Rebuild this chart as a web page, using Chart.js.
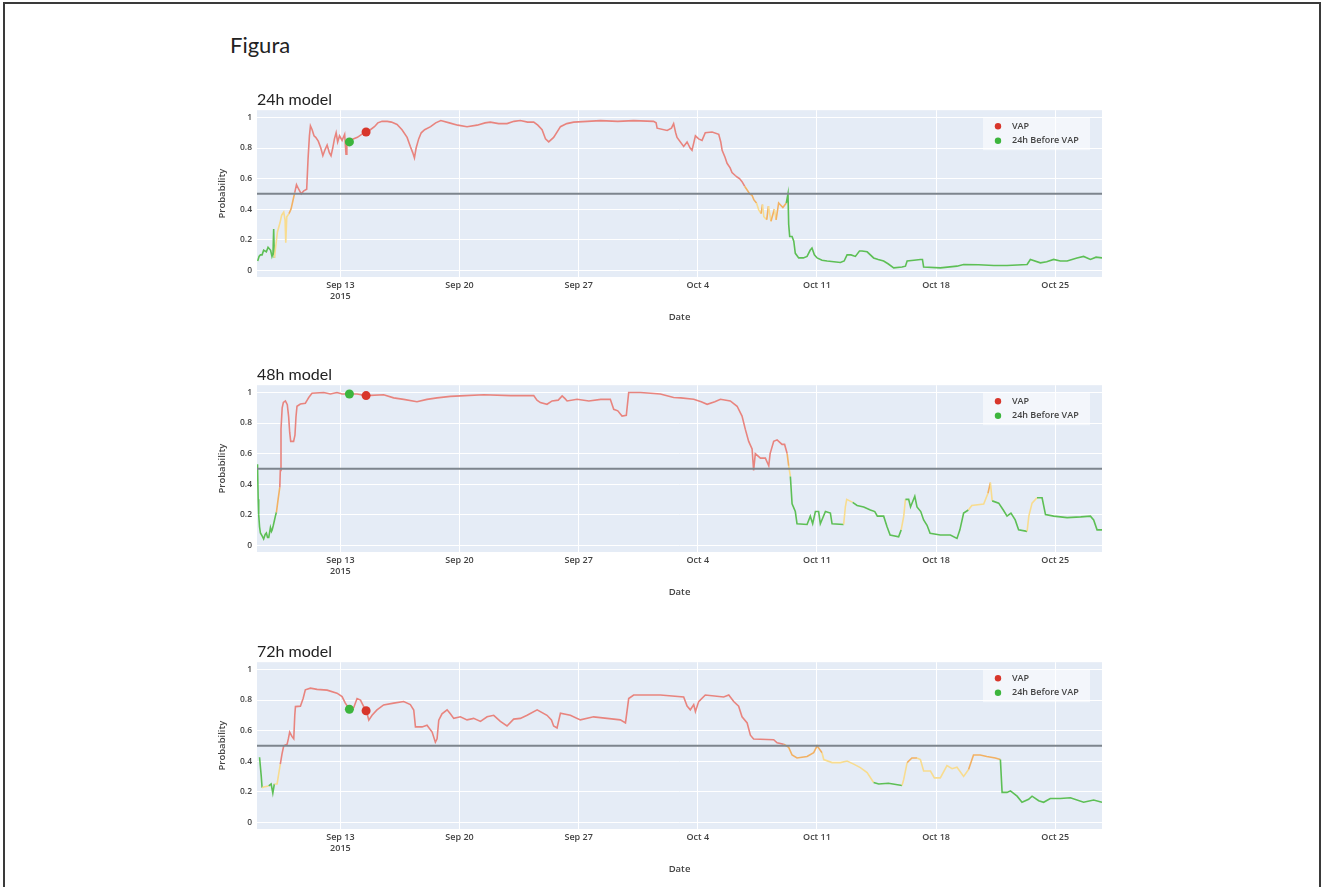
<!DOCTYPE html>
<html>
<head>
<meta charset="utf-8">
<script src="https://cdn.jsdelivr.net/npm/chart.js@4.4.1/dist/chart.umd.min.js"></script>
<style>
  html, body { margin:0; padding:0; background:#fff; width:1325px; height:887px; overflow:hidden; }
  #frame { position:absolute; left:3px; top:2px; width:1318px; height:920px; box-sizing:border-box; border:2px solid #3a3a3a; }
  #fig { position:absolute; left:230px; top:31px; font-family:Lato, "Open Sans", sans-serif; font-size:22px; color:#222; }
  canvas { position:absolute; }
</style>
</head>
<body>
<div id="frame"></div>
<div id="fig">Figura</div>
<canvas id="c24" width="905" height="250" style="left:205px;top:82px;width:905px;height:250px"></canvas>
<canvas id="c48" width="905" height="250" style="left:205px;top:357px;width:905px;height:250px"></canvas>
<canvas id="c72" width="905" height="250" style="left:205px;top:634px;width:905px;height:250px"></canvas>
<script>
// ---- Data (x = days from Sep 13 2015) ----
const tickDays = [0, 7, 14, 21, 28, 35, 42];
const tickLabels = ['Sep 13', 'Sep 20', 'Sep 27', 'Oct 4', 'Oct 11', 'Oct 18', 'Oct 25'];
const yearLabel = '2015';
const yTicks = [0, 0.2, 0.4, 0.6, 0.8, 1];
const threshold = 0.5;
const modelTitles = ['24h model', '48h model', '72h model'];
const seriesLabels = ['VAP', '24h Before VAP'];
const vapDay = 1.51;
const vapProb = [0.905, 0.98, 0.73];
const beforeDay = 0.53;
const beforeProb = [0.84, 0.99, 0.74];

const days24 = [-4.86,-4.78,-4.70,-4.60,-4.51,-4.35,-4.25,-4.10,-4.02,-3.96,-3.92,-3.88,-3.70,-3.55,-3.45,-3.33,-3.25,-3.21,-3.15,-3.02,-2.90,-2.80,-2.68,-2.58,-2.45,-2.30,-2.15,-1.98,-1.90,-1.82,-1.76,-1.66,-1.55,-1.45,-1.30,-1.15,-1.03,-0.90,-0.78,-0.65,-0.55,-0.45,-0.35,-0.25,-0.16,-0.05,0.10,0.25,0.33,0.38,0.53,0.75,1.00,1.25,1.51,1.76,2.00,2.20,2.45,2.75,3.00,3.33,3.62,3.92,4.11,4.25,4.35,4.45,4.60,4.75,4.95,5.30,5.60,5.90,6.40,6.90,7.44,8.03,8.50,8.81,9.30,9.79,10.20,10.57,11.00,11.36,11.60,11.85,12.05,12.24,12.53,12.93,13.30,13.71,14.50,15.28,16.30,17.23,18.40,18.55,18.61,19.20,19.45,19.58,19.70,19.78,20.17,20.37,20.55,20.66,20.86,21.05,21.25,21.44,21.84,22.23,22.35,22.43,22.60,22.72,22.90,23.01,23.20,23.31,23.45,23.60,23.75,23.90,24.05,24.19,24.30,24.45,24.58,24.72,24.80,24.88,25.05,25.15,25.30,25.50,25.60,25.75,26.00,26.20,26.30,26.34,26.40,26.54,26.64,26.73,26.93,27.20,27.42,27.60,27.71,27.85,28.01,28.30,28.60,29.38,29.60,29.77,30.00,30.26,30.50,30.65,30.95,31.33,31.60,31.92,32.20,32.51,33.00,33.20,33.30,33.70,34.08,34.20,34.27,35.25,36.23,36.62,37.50,38.40,39.17,40.35,40.54,41.13,41.50,41.91,42.30,42.70,43.28,43.67,44.07,44.40,44.75];
const prob24 = [0.06,0.09,0.10,0.10,0.13,0.12,0.15,0.13,0.09,0.11,0.27,0.08,0.25,0.31,0.36,0.38,0.33,0.18,0.35,0.37,0.40,0.45,0.51,0.56,0.53,0.50,0.52,0.53,0.73,0.88,0.945,0.92,0.88,0.87,0.845,0.80,0.75,0.79,0.82,0.77,0.75,0.80,0.86,0.90,0.84,0.88,0.85,0.89,0.76,0.84,0.84,0.86,0.87,0.89,0.905,0.92,0.94,0.965,0.975,0.975,0.97,0.955,0.92,0.87,0.81,0.77,0.735,0.80,0.86,0.90,0.92,0.94,0.965,0.98,0.965,0.95,0.94,0.95,0.965,0.97,0.96,0.96,0.975,0.98,0.97,0.97,0.95,0.92,0.86,0.84,0.87,0.94,0.96,0.97,0.975,0.98,0.975,0.98,0.975,0.965,0.93,0.915,0.93,0.96,0.90,0.87,0.81,0.84,0.80,0.785,0.88,0.86,0.85,0.90,0.905,0.89,0.84,0.785,0.74,0.70,0.67,0.64,0.62,0.61,0.60,0.58,0.55,0.525,0.50,0.49,0.46,0.44,0.395,0.37,0.43,0.35,0.33,0.42,0.32,0.40,0.33,0.44,0.41,0.44,0.50,0.30,0.22,0.22,0.19,0.11,0.08,0.08,0.09,0.13,0.145,0.10,0.08,0.065,0.06,0.05,0.06,0.10,0.10,0.09,0.125,0.125,0.12,0.08,0.07,0.06,0.04,0.015,0.02,0.026,0.06,0.065,0.07,0.07,0.02,0.015,0.026,0.037,0.035,0.03,0.03,0.037,0.07,0.048,0.055,0.07,0.06,0.06,0.08,0.09,0.07,0.085,0.08];
// colour class runs along each series: [class, number of points]
const runs24 = [['g',12],['y',8],['o',3],['r',104],['o',5],['y',2],['o',1],['y',2],['o',1],['y',1],['o',1],['y',1],['o',3],['g',53]];

const days48 = [-4.87,-4.83,-4.80,-4.75,-4.70,-4.60,-4.51,-4.42,-4.35,-4.28,-4.21,-4.11,-4.05,-4.01,-3.94,-3.88,-3.82,-3.76,-3.66,-3.56,-3.53,-3.49,-3.42,-3.35,-3.23,-3.12,-3.04,-2.98,-2.92,-2.75,-2.67,-2.61,-2.55,-2.35,-2.06,-1.95,-1.86,-1.67,-0.98,-0.59,-0.20,0.10,0.53,0.98,1.51,2.54,3.13,3.72,4.50,5.09,5.68,6.46,7.05,8.42,10.00,11.36,11.55,11.75,12.14,12.44,12.80,13.03,13.20,13.32,13.91,14.60,15.30,15.86,16.06,16.30,16.45,16.55,16.80,16.94,17.63,18.80,19.58,20.00,20.76,21.20,21.55,22.00,22.33,22.91,23.31,23.60,23.79,23.99,24.19,24.28,24.38,24.68,24.97,25.17,25.25,25.46,25.66,25.95,26.10,26.25,26.34,26.44,26.54,26.73,26.83,27.42,27.61,27.75,27.91,28.10,28.20,28.50,28.79,28.89,29.57,29.67,29.75,30.10,30.36,30.75,31.14,31.40,31.55,31.92,32.12,32.30,32.80,32.95,33.10,33.20,33.39,33.50,33.75,33.88,34.10,34.27,34.47,34.65,35.25,35.84,36.23,36.40,36.62,36.90,37.10,37.80,38.05,38.19,38.30,38.68,38.95,39.17,39.40,39.65,39.85,40.35,40.45,40.64,40.93,41.23,41.43,41.91,42.70,43.50,44.07,44.26,44.46,44.75];
const prob48 = [0.53,0.30,0.20,0.12,0.08,0.06,0.04,0.07,0.08,0.05,0.05,0.115,0.09,0.10,0.13,0.16,0.19,0.215,0.30,0.38,0.49,0.76,0.90,0.935,0.945,0.92,0.84,0.74,0.68,0.68,0.72,0.84,0.91,0.925,0.93,0.95,0.967,0.995,1.0,0.99,1.0,0.99,0.99,0.99,0.98,0.985,0.965,0.955,0.94,0.955,0.965,0.975,0.978,0.985,0.98,0.98,0.95,0.934,0.923,0.945,0.95,0.978,0.96,0.945,0.956,0.945,0.955,0.956,0.89,0.88,0.86,0.846,0.85,1.0,1.0,0.99,0.967,0.965,0.956,0.94,0.923,0.94,0.956,0.945,0.91,0.846,0.76,0.68,0.63,0.49,0.60,0.57,0.57,0.52,0.60,0.68,0.69,0.66,0.66,0.60,0.52,0.45,0.27,0.22,0.14,0.135,0.19,0.14,0.22,0.22,0.14,0.22,0.21,0.14,0.135,0.25,0.30,0.28,0.26,0.25,0.23,0.22,0.19,0.19,0.12,0.066,0.055,0.10,0.19,0.30,0.30,0.25,0.32,0.25,0.22,0.165,0.13,0.077,0.066,0.066,0.044,0.10,0.21,0.23,0.26,0.27,0.34,0.41,0.29,0.275,0.23,0.19,0.21,0.165,0.10,0.09,0.19,0.275,0.31,0.31,0.20,0.19,0.18,0.185,0.19,0.165,0.10,0.10];
const runs48 = [['g',18],['o',2],['r',80],['o',1],['y',1],['g',13],['y',3],['g',10],['y',2],['g',14],['y',3],['o',1],['y',1],['g',7],['y',3],['g',9]];

const days72 = [-4.75,-4.65,-4.60,-4.51,-4.30,-4.21,-4.07,-3.97,-3.88,-3.72,-3.62,-3.53,-3.43,-3.33,-3.13,-3.05,-2.98,-2.84,-2.74,-2.68,-2.64,-2.35,-2.19,-2.06,-1.76,-1.37,-0.78,-0.20,0.10,0.29,0.53,0.78,0.98,1.18,1.37,1.51,1.67,1.86,2.15,2.54,3.13,3.72,4.11,4.31,4.41,4.80,5.09,5.39,5.58,5.68,5.78,5.97,6.27,6.46,6.66,7.05,7.44,7.83,8.23,8.62,9.01,9.40,9.79,10.18,10.57,10.97,11.56,12.14,12.40,12.53,12.73,12.93,13.51,14.10,14.88,15.67,16.45,16.75,16.94,17.23,18.80,20.17,20.37,20.56,20.76,20.86,21.05,21.44,22.52,22.82,23.11,23.40,23.60,23.90,24.09,24.28,25.46,25.66,26.05,26.34,26.54,26.83,27.42,27.81,28.01,28.30,28.40,28.89,29.38,29.77,30.16,30.55,30.95,31.33,31.63,32.20,33.00,33.10,33.30,33.58,33.88,34.08,34.27,34.67,34.90,35.25,35.64,35.94,36.23,36.62,36.91,37.20,37.59,37.98,38.48,38.78,38.88,39.17,39.37,39.76,40.05,40.44,40.64,41.03,41.32,41.71,42.30,42.89,43.67,44.26,44.75];
const prob72 = [0.425,0.30,0.225,0.23,0.235,0.237,0.25,0.19,0.25,0.25,0.32,0.38,0.447,0.50,0.51,0.55,0.59,0.56,0.546,0.70,0.757,0.76,0.81,0.867,0.878,0.87,0.865,0.845,0.823,0.78,0.74,0.75,0.81,0.80,0.757,0.735,0.668,0.70,0.735,0.768,0.78,0.79,0.77,0.735,0.624,0.624,0.635,0.59,0.524,0.546,0.668,0.71,0.736,0.71,0.68,0.69,0.67,0.68,0.66,0.69,0.70,0.66,0.63,0.675,0.68,0.70,0.736,0.70,0.67,0.63,0.617,0.714,0.70,0.67,0.69,0.68,0.67,0.65,0.81,0.833,0.833,0.82,0.76,0.736,0.77,0.725,0.79,0.833,0.82,0.833,0.79,0.76,0.69,0.65,0.57,0.545,0.54,0.52,0.51,0.49,0.44,0.42,0.43,0.455,0.50,0.455,0.41,0.39,0.39,0.40,0.38,0.357,0.325,0.26,0.25,0.255,0.24,0.28,0.39,0.42,0.42,0.41,0.335,0.335,0.29,0.29,0.37,0.35,0.36,0.30,0.345,0.44,0.44,0.43,0.42,0.41,0.195,0.195,0.205,0.17,0.13,0.15,0.17,0.14,0.13,0.155,0.155,0.16,0.13,0.145,0.13];
const runs72 = [['g',3],['y',3],['g',3],['y',3],['r',87],['o',7],['y',8],['g',3],['y',2],['o',2],['y',10],['o',5],['g',15]];

// ---- Styling ----
const lineColors = { r: '#e8847e', o: '#f2b163', y: '#f8dc8f', g: '#5dbf55' };
const plotBg = '#e5ecf6';
Chart.defaults.font.family = '"Open Sans", sans-serif';
Chart.defaults.color = '#444';

const expandRuns = runs => runs.flatMap(([c, n]) => Array(n).fill(c));

const plotBgPlugin = {
  id: 'plotBg',
  beforeDraw(chart) {
    const { ctx, chartArea: a } = chart;
    ctx.save();
    ctx.fillStyle = plotBg;
    ctx.fillRect(a.left, a.top, a.right - a.left, a.bottom - a.top);
    ctx.restore();
  }
};

const insideLegend = {
  id: 'insideLegend',
  afterDatasetsDraw(chart) {
    const { ctx, chartArea: a } = chart;
    const items = chart.data.datasets.filter(d => d.inLegend);
    const w = 107, h = 33;
    const x = a.right - 12 - w, y = a.top + 7;
    ctx.save();
    ctx.fillStyle = 'rgba(255,255,255,0.55)';
    ctx.fillRect(x, y, w, h);
    ctx.font = '600 9px "Open Sans"';
    ctx.textBaseline = 'middle';
    items.forEach((d, i) => {
      const cy = y + 9 + i * 14.5;
      ctx.fillStyle = d.backgroundColor;
      ctx.beginPath();
      ctx.arc(x + 15, cy, 3.2, 0, Math.PI * 2);
      ctx.fill();
      ctx.fillStyle = '#444';
      ctx.fillText(d.label, x + 29, cy);
    });
    ctx.restore();
  }
};

const xMin = -4.9, xMax = 44.75, yMin = -0.045, yMax = 1.048;

function makeChart(id, title, days, probs, runs, idx) {
  const cls = expandRuns(runs);
  const pts = days.map((d, i) => ({ x: d, y: probs[i] }));
  new Chart(document.getElementById(id), {
    type: 'line',
    data: {
      datasets: [
        { label: seriesLabels[0], inLegend: true, type: 'scatter', data: [{ x: vapDay, y: vapProb[idx] }],
          backgroundColor: '#d8362b', pointRadius: 4.5, pointBorderWidth: 0, order: 0 },
        { label: seriesLabels[1], inLegend: true, type: 'scatter', data: [{ x: beforeDay, y: beforeProb[idx] }],
          backgroundColor: '#3db53d', pointRadius: 4.5, pointBorderWidth: 0, order: 0 },
        { label: 'threshold', data: [{ x: xMin, y: threshold }, { x: xMax, y: threshold }],
          borderColor: '#7d858d', borderWidth: 2, pointRadius: 0, order: 1 },
        { label: 'probability', data: pts, borderWidth: 1.6, pointRadius: 0, tension: 0, order: 2,
          borderColor: lineColors.r,
          segment: { borderColor: c => lineColors[cls[c.p1DataIndex]] || lineColors.r } }
      ]
    },
    options: {
      responsive: false, animation: false, devicePixelRatio: 1,
      layout: { padding: { left: 0, right: 8, top: 0, bottom: 0 } },
      plugins: {
        legend: { display: false },
        tooltip: { enabled: false },
        title: { display: true, text: title, align: 'start', fullSize: false,
          font: { family: 'Lato', size: 16, weight: 'normal', lineHeight: 1.2 }, color: '#222',
          padding: { top: 8, bottom: 1 } }
      },
      scales: {
        x: {
          type: 'linear', min: xMin, max: xMax,
          afterFit: s => { s.height = 55; },
          afterBuildTicks: s => { s.ticks = tickDays.map(v => ({ value: v })); },
          grid: { color: '#ffffff', lineWidth: 1, drawTicks: false },
          border: { display: false },
          ticks: { autoSkip: false, maxRotation: 0, padding: 3,
            font: { size: 9, weight: '600', lineHeight: 1.25 }, color: '#444',
            callback: v => { const i = tickDays.indexOf(v); return i === 0 ? [tickLabels[i], yearLabel] : tickLabels[i]; } },
          title: { display: true, text: 'Date', font: { size: 9.5, weight: '600' }, color: '#444',
            padding: { top: 0, bottom: 9.3 } }
        },
        y: {
          min: yMin, max: yMax,
          afterFit: s => { s.width = 52; },
          afterBuildTicks: s => { s.ticks = yTicks.map(v => ({ value: v })); },
          grid: { color: '#ffffff', lineWidth: 1, drawTicks: false },
          border: { display: false },
          ticks: { padding: 5, font: { size: 8.5, weight: '600' }, color: '#444', callback: v => String(v) },
          title: { display: true, text: 'Probability', font: { size: 9.5, weight: '600' }, color: '#444',
            padding: { top: 12, bottom: 0 } }
        }
      }
    },
    plugins: [plotBgPlugin, insideLegend]
  });
}

makeChart('c24', modelTitles[0], days24, prob24, runs24, 0);
makeChart('c48', modelTitles[1], days48, prob48, runs48, 1);
makeChart('c72', modelTitles[2], days72, prob72, runs72, 2);
</script>
</body>
</html>
